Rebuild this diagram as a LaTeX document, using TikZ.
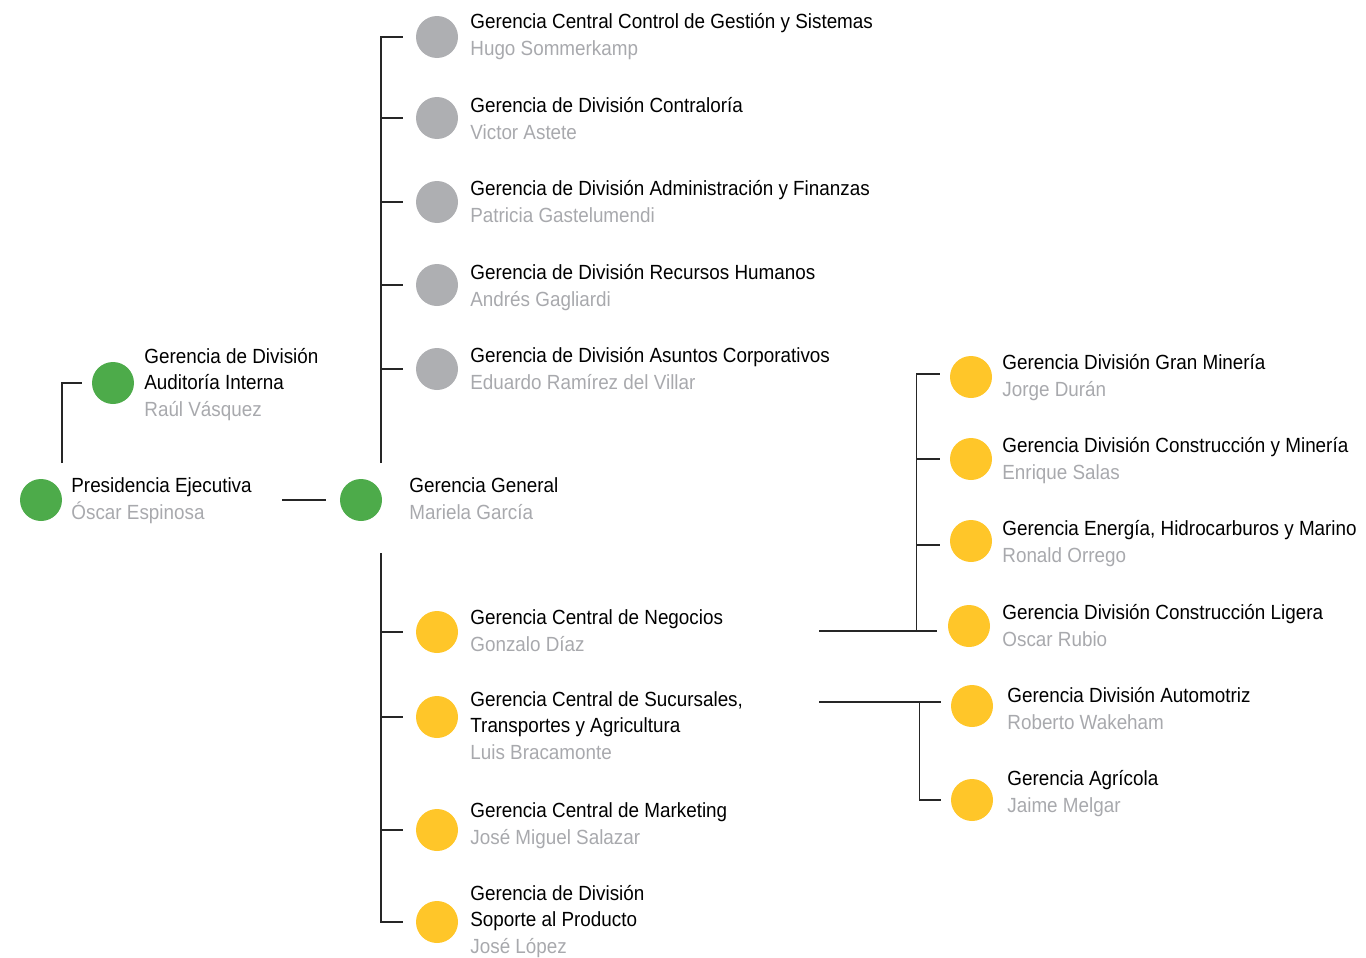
\documentclass[tikz,border=0pt]{standalone}
\usepackage{fontspec}
\newfontfamily\orgfont[FakeStretch=0.92]{Liberation Sans}
\usetikzlibrary{calc}

% colours
\definecolor{dotgreen}{HTML}{4DAB4A}
\definecolor{dotgrey}{HTML}{AEAFB2}
\definecolor{dotyellow}{HTML}{FFC629}
\definecolor{namegrey}{HTML}{A8A9AD}

\tikzset{
	dot/.style={circle, minimum size=21pt, inner sep=0pt},
	% base anchor sits on the last line (the name)
	entry/.style={anchor=base west, align=left, inner sep=0pt, font=\orgfont\fontsize{10.25}{13.25}\selectfont},
	link/.style={draw=black!85, line width=0.65pt}
}

\begin{document}
\begin{tikzpicture}[x=0.5pt, y=-0.5pt]
	\useasboundingbox (0,0) rectangle (1366,958);

	% presidency and general management
	\node[dot, fill=dotgreen] (pres) at (41,500) {};
	\node[entry] (presT) at (71,519) {Presidencia Ejecutiva\\\textcolor{namegrey}{Óscar Espinosa}};
	\node[dot, fill=dotgreen] (aud) at (113,383) {};
	\node[entry] (audT) at (144,416) {Gerencia de División\\Auditoría Interna\\\textcolor{namegrey}{Raúl Vásquez}};
	\node[dot, fill=dotgreen] (gg) at (361,500) {};
	\node[entry] (ggT) at (409,519) {Gerencia General\\\textcolor{namegrey}{Mariela García}};

	% staff units above
	\node[dot, fill=dotgrey] (g1) at (437,37) {};
	\node[entry] (g1T) at (470,55) {Gerencia Central Control de Gestión y Sistemas\\\textcolor{namegrey}{Hugo Sommerkamp}};
	\node[dot, fill=dotgrey] (g2) at (437,118) {};
	\node[entry] (g2T) at (470,139) {Gerencia de División Contraloría\\\textcolor{namegrey}{Victor Astete}};
	\node[dot, fill=dotgrey] (g3) at (437,202) {};
	\node[entry] (g3T) at (470,222) {Gerencia de División Administración y Finanzas\\\textcolor{namegrey}{Patricia Gastelumendi}};
	\node[dot, fill=dotgrey] (g4) at (437,285) {};
	\node[entry] (g4T) at (470,306) {Gerencia de División Recursos Humanos\\\textcolor{namegrey}{Andrés Gagliardi}};
	\node[dot, fill=dotgrey] (g5) at (437,369) {};
	\node[entry] (g5T) at (470,389) {Gerencia de División Asuntos Corporativos\\\textcolor{namegrey}{Eduardo Ramírez del Villar}};

	% line units below
	\node[dot, fill=dotyellow] (y1) at (437,632) {};
	\node[entry] (y1T) at (470,651) {Gerencia Central de Negocios\\\textcolor{namegrey}{Gonzalo Díaz}};
	\node[dot, fill=dotyellow] (y2) at (437,717) {};
	\node[entry] (y2T) at (470,759) {Gerencia Central de Sucursales,\\Transportes y Agricultura\\\textcolor{namegrey}{Luis Bracamonte}};
	\node[dot, fill=dotyellow] (y3) at (437,830) {};
	\node[entry] (y3T) at (470,844) {Gerencia Central de Marketing\\\textcolor{namegrey}{José Miguel Salazar}};
	\node[dot, fill=dotyellow] (y4) at (437,922) {};
	\node[entry] (y4T) at (470,953) {Gerencia de División\\Soporte al Producto\\\textcolor{namegrey}{José López}};

	% business divisions
	\node[dot, fill=dotyellow] (r1) at (971,377) {};
	\node[entry] (r1T) at (1002,396) {Gerencia División Gran Minería\\\textcolor{namegrey}{Jorge Durán}};
	\node[dot, fill=dotyellow] (r2) at (971,459) {};
	\node[entry] (r2T) at (1002,479) {Gerencia División Construcción y Minería\\\textcolor{namegrey}{Enrique Salas}};
	\node[dot, fill=dotyellow] (r3) at (971,541) {};
	\node[entry] (r3T) at (1002,562) {Gerencia Energía, Hidrocarburos y Marino\\\textcolor{namegrey}{Ronald Orrego}};
	\node[dot, fill=dotyellow] (r4) at (969,626) {};
	\node[entry] (r4T) at (1002,646) {Gerencia División Construcción Ligera\\\textcolor{namegrey}{Oscar Rubio}};

	% branch divisions
	\node[dot, fill=dotyellow] (a1) at (972,706) {};
	\node[entry] (a1T) at (1007,729) {Gerencia División Automotriz\\\textcolor{namegrey}{Roberto Wakeham}};
	\node[dot, fill=dotyellow] (a2) at (972,800) {};
	\node[entry] (a2T) at (1007,812) {Gerencia Agrícola\\\textcolor{namegrey}{Jaime Melgar}};

	% free ends of the connectors
	\coordinate (audFoot) at (62,463);
	\coordinate (presEnd) at (282,500);
	\coordinate (topFoot) at (381,463);
	\coordinate (botHead) at (381,553);
	\coordinate (negEnd) at (819,631);
	\coordinate (sucEnd) at (819,702);
	\coordinate (negSpine) at ($(r1.west)+(-33,-3)$);

	% connectors
	\draw[link] (audFoot) |- ($(aud.west)+(-10,0)$);
	\draw[link] (presEnd) -- ($(gg.west)+(-14,0)$);
	\draw[link] (topFoot) |- ($(g1.west)+(-13,0)$);
	\foreach \u in {g2,g3,g4,g5}
		\draw[link] ($(\u.west)+(-13,0)$) -- ++(-22,0);
	\draw[link] (botHead) |- ($(y4.west)+(-13,0)$);
	\foreach \u in {y1,y2,y3}
		\draw[link] ($(\u.west)+(-13,0)$) -- ++(-22,0);
	% right hand brackets
	\draw[link] (negEnd) -- ($(r4.west |- negEnd)+(-11,0)$);
	\draw[link] ($(r1.west)+(-10,-3)$) -- (negSpine) -- (negSpine |- negEnd);
	\draw[link] ($(r2.west)+(-10,0)$) -- ++(-23,0);
	\draw[link] ($(r3.west)+(-10,4)$) -- ++(-23,0);
	\draw[link] (sucEnd) -- ($(a1.west |- sucEnd)+(-10,0)$);
	\draw[link] ($(a1.west |- sucEnd)+(-31,0)$) |- ($(a2.west)+(-10,0)$);

\end{tikzpicture}
\end{document}
